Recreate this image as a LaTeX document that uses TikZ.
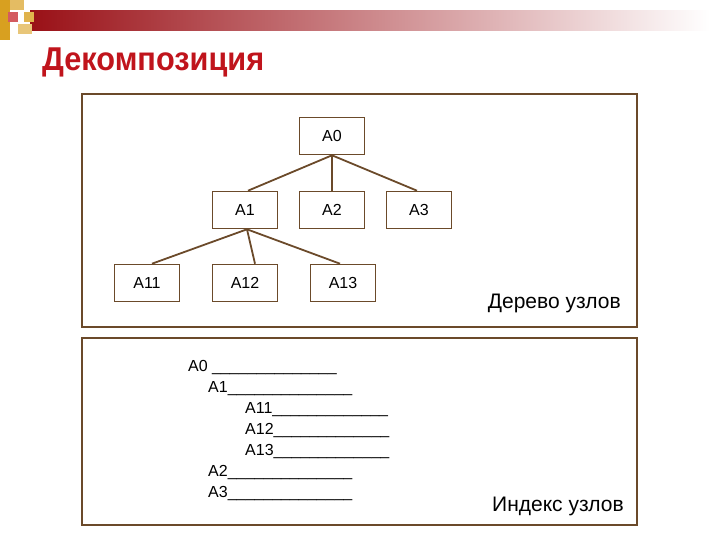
\documentclass[tikz,border=0pt]{standalone}
\usepackage{fontspec}
\setmainfont{Liberation Sans}
\definecolor{frm}{HTML}{6B4A2A}
\definecolor{ttl}{HTML}{C0141C}
\definecolor{gold}{HTML}{D8A020}
\begin{document}
\begin{tikzpicture}[x=1pt,y=-1pt,
  box/.style={draw=frm,line width=1.6pt,fill=white,minimum width=65pt,minimum height=37pt,font=\fontsize{16}{19}\selectfont,inner sep=0pt},
  frame/.style={draw=frm,line width=1.6pt},
  edge/.style={draw=frm,line width=1.8pt},
  idx/.style={anchor=base west,font=\fontsize{16}{19}\selectfont,inner sep=0pt}]
\useasboundingbox (0,0) rectangle (720,540);
% decoration
\shade[left color=ttl!80!black,right color=white] (30,11) rectangle (710,31);
\fill[gold] (0,0) rectangle (10,40);
\fill[gold!70] (10,0) rectangle (24,10);
\fill[ttl!70] (8,12) rectangle (18,22);
\fill[gold!80] (24,12) rectangle (34,22);
\fill[white] (10,24) rectangle (24,40);
\fill[gold!60] (18,24) rectangle (32,34);
% title
\node[anchor=base west,inner sep=0pt,text=ttl,font=\fontsize{33}{38}\selectfont\bfseries] (title) at (42,71) {\addfontfeature{FakeStretch=0.93}Декомпозиция};
% frames
\draw[frame] (82,94) rectangle (637,327);
\draw[frame] (82,338) rectangle (637,525);
% tree
\node[box] (a0) at (332,136) {A0};
\node[box] (a1) at (245,210) {A1};
\node[box] (a2) at (332,210) {A2};
\node[box] (a3) at (419,210) {A3};
\node[box] (a11) at (147,283) {A11};
\node[box] (a12) at (245,283) {A12};
\node[box] (a13) at (343,283) {A13};
\draw[edge] (a0.south) -- ([xshift=3pt]a1.north);
\draw[edge] (a0.south) -- (a2.north);
\draw[edge] (a0.south) -- ([xshift=-2pt]a3.north);
\draw[edge] ([xshift=2pt]a1.south) -- ([xshift=5pt]a11.north);
\draw[edge] ([xshift=2pt]a1.south) -- ([xshift=10pt]a12.north);
\draw[edge] ([xshift=2pt]a1.south) -- ([xshift=-3pt]a13.north);
\node[anchor=base east,inner sep=0pt,font=\fontsize{21}{25}\selectfont] (t1) at (621,308) {Дерево узлов};
% index
\node[idx] (i0) at (188,371) {A0 \_\_\_\_\_\_\_\_\_\_\_\_\_\_};
\node[idx] (i1) at (208,392) {A1\_\_\_\_\_\_\_\_\_\_\_\_\_\_};
\node[idx] (i11) at (245,413) {A11\_\_\_\_\_\_\_\_\_\_\_\_\_};
\node[idx] (i12) at (245,434) {A12\_\_\_\_\_\_\_\_\_\_\_\_\_};
\node[idx] (i13) at (245,455) {A13\_\_\_\_\_\_\_\_\_\_\_\_\_};
\node[idx] (i2) at (208,476) {A2\_\_\_\_\_\_\_\_\_\_\_\_\_\_};
\node[idx] (i3) at (208,497) {A3\_\_\_\_\_\_\_\_\_\_\_\_\_\_};
\node[anchor=base east,inner sep=0pt,font=\fontsize{21}{25}\selectfont] (t2) at (624,511) {Индекс узлов};
\end{tikzpicture}
\end{document}
